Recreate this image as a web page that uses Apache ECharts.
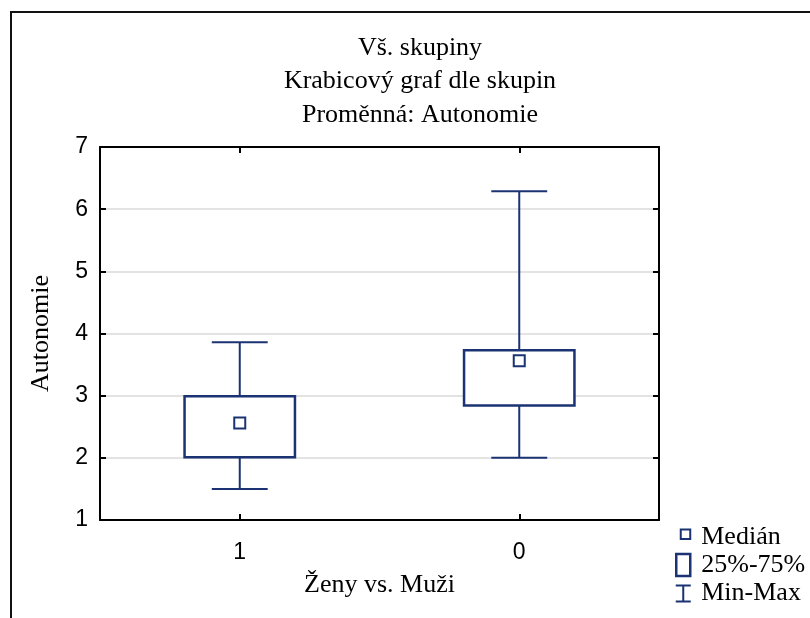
<!DOCTYPE html>
<html>
<head>
<meta charset="utf-8">
<script src="https://cdn.jsdelivr.net/npm/echarts@6/dist/echarts.min.js"></script>
<style>
html,body{margin:0;padding:0;background:#fff;}
#chart{width:810px;height:618px;}
</style>
</head>
<body>
<div id="chart"></div>
<script>
// ---- data ----
const categories = ['1', '0'];
const minValues = [1.5, 2.0];
const q1Values = [2.01, 2.84];
const medianValues = [2.56, 3.56];
const q3Values = [2.99, 3.73];
const maxValues = [3.86, 6.29];
const yTicks = { min: 1, max: 7, interval: 1 };
const titleLines = ['Vš. skupiny', 'Krabicový graf dle skupin', 'Proměnná: Autonomie'];
const xAxisName = 'Ženy vs. Muži';
const yAxisName = 'Autonomie';
const legendNames = ['Medián', '25%-75%', 'Min-Max'];

// ---- style ----
const NAVY = '#1b3372';
const SERIF = '"Liberation Serif", "Times New Roman", serif';
const SANS = '"Liberation Sans", Arial, sans-serif';

const whiskerData = categories.map((c, i) => [i, minValues[i], maxValues[i]]);
const boxData = categories.map((c, i) => [i, q1Values[i], q3Values[i]]);
const medianData = categories.map((c, i) => [i, medianValues[i]]);

const chart = echarts.init(document.getElementById('chart'), null, { renderer: 'canvas' });

const axisLine = { show: true, lineStyle: { color: '#000', width: 2 } };

const option = {
  animation: false,
  backgroundColor: '#fff',
  grid: { left: 100, right: 151, top: 147, bottom: 98, containLabel: false },
  graphic: [
    {
      type: 'rect', silent: true, z: 100,
      shape: { x: 11, y: 12, width: 900, height: 700 },
      style: { fill: 'none', stroke: '#111', lineWidth: 2 }
    },
    ...titleLines.map((t, i) => ({
      type: 'text', silent: true,
      x: 420, y: [48, 81, 115][i],
      style: { text: t, font: '26px ' + SERIF, fill: '#000', align: 'center', verticalAlign: 'middle' }
    }))
  ],
  legend: {
    orient: 'vertical',
    left: 674, top: 524,
    itemWidth: 16, itemHeight: 23, itemGap: 2,
    padding: 0,
    textStyle: { fontFamily: SERIF, fontSize: 26, lineHeight: 23, color: '#000', padding: [2, 0, 0, 5] },
    selectedMode: false,
    data: [
      { name: legendNames[0], icon: 'path://M0,0 M16,23 M5.5,4 L15,4 L15,13.5 L5.5,13.5 Z',
        itemStyle: { color: '#fff', borderColor: NAVY, borderWidth: 2 } },
      { name: legendNames[1], icon: 'path://M0,0 M16,23 M1,0.5 L15,0.5 L15,22.5 L1,22.5 Z',
        itemStyle: { color: '#fff', borderColor: NAVY, borderWidth: 2.5 } },
      { name: legendNames[2], icon: 'path://M0,0 M16,23 M0.5,4 L15.5,4 M8,4 L8,20 M0.5,20 L15.5,20',
        itemStyle: { color: '#fff', borderColor: NAVY, borderWidth: 2 } }
    ]
  },
  xAxis: [
    {
      type: 'category', position: 'bottom', data: categories, boundaryGap: true,
      axisLine,
      axisTick: { show: true, inside: true, alignWithLabel: true, length: 6, lineStyle: { color: '#000', width: 2 } },
      axisLabel: { fontFamily: SANS, fontSize: 23, color: '#000', margin: 21 },
      splitLine: { show: false },
      name: xAxisName, nameLocation: 'middle', nameGap: 52,
      nameTextStyle: { fontFamily: SERIF, fontSize: 26, color: '#000' }
    },
    {
      type: 'category', position: 'top', data: categories, boundaryGap: true,
      axisLine,
      axisTick: { show: true, inside: true, alignWithLabel: true, length: 6, lineStyle: { color: '#000', width: 2 } },
      axisLabel: { show: false },
      splitLine: { show: false }
    }
  ],
  yAxis: [
    {
      type: 'value', position: 'left', min: yTicks.min, max: yTicks.max, interval: yTicks.interval,
      axisLine,
      axisTick: { show: true, inside: true, length: 6, lineStyle: { color: '#000', width: 2 } },
      axisLabel: { fontFamily: SANS, fontSize: 23, color: '#000', margin: 12 },
      splitLine: { show: true, lineStyle: { color: '#dadada', width: 1.5 } },
      name: yAxisName, nameLocation: 'middle', nameGap: 46,
      nameTextStyle: { fontFamily: SERIF, fontSize: 26, color: '#000' }
    },
    {
      type: 'value', position: 'right', min: yTicks.min, max: yTicks.max, interval: yTicks.interval,
      axisLine,
      axisTick: { show: true, inside: true, length: 6, lineStyle: { color: '#000', width: 2 } },
      axisLabel: { show: false },
      splitLine: { show: false }
    }
  ],
  series: [
    {
      name: legendNames[2],
      type: 'custom',
      z: 2,
      data: whiskerData,
      encode: { x: 0, y: [1, 2] },
      itemStyle: { color: '#fff', borderColor: NAVY },
      renderItem: function (params, api) {
        const x = api.value(0);
        const pMin = api.coord([x, api.value(1)]);
        const pMax = api.coord([x, api.value(2)]);
        const half = api.size([1, 0])[0] * 0.1;
        const style = { stroke: NAVY, lineWidth: 2, fill: null };
        return {
          type: 'group',
          children: [
            { type: 'line', shape: { x1: pMin[0], y1: pMin[1], x2: pMax[0], y2: pMax[1] }, style },
            { type: 'line', shape: { x1: pMin[0] - half, y1: pMin[1], x2: pMin[0] + half, y2: pMin[1] }, style },
            { type: 'line', shape: { x1: pMax[0] - half, y1: pMax[1], x2: pMax[0] + half, y2: pMax[1] }, style }
          ]
        };
      }
    },
    {
      name: legendNames[1],
      type: 'custom',
      z: 3,
      data: boxData,
      encode: { x: 0, y: [1, 2] },
      itemStyle: { color: '#fff', borderColor: NAVY },
      renderItem: function (params, api) {
        const x = api.value(0);
        const pLo = api.coord([x, api.value(1)]);
        const pHi = api.coord([x, api.value(2)]);
        const w = api.size([1, 0])[0] * 0.395;
        return {
          type: 'rect',
          shape: { x: pLo[0] - w / 2, y: pHi[1], width: w, height: pLo[1] - pHi[1] },
          style: { fill: '#fff', stroke: NAVY, lineWidth: 2.5 }
        };
      }
    },
    {
      name: legendNames[0],
      type: 'scatter',
      z: 4,
      data: medianData,
      symbol: 'rect',
      symbolSize: 11,
      itemStyle: { color: '#fff', borderColor: NAVY, borderWidth: 2, opacity: 1 }
    }
  ]
};

chart.setOption(option);
</script>
</body>
</html>
